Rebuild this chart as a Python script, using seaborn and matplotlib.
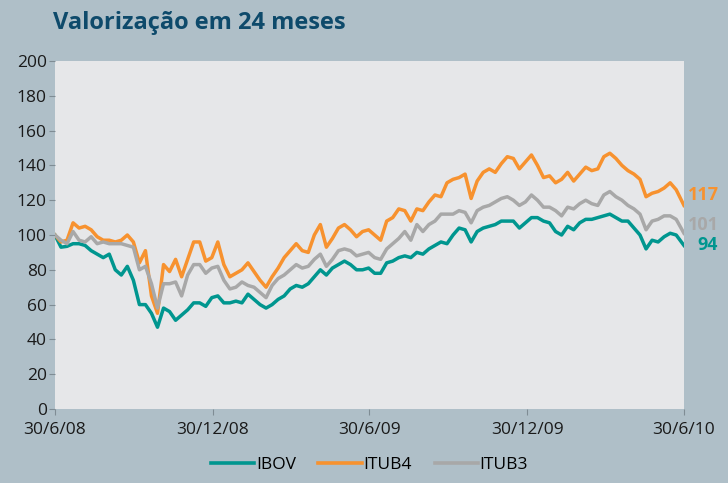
import pandas as pd
import numpy as np
import matplotlib
matplotlib.use('Agg')
import matplotlib.pyplot as plt
import seaborn as sns

# weekly values (base 100 on 30/6/08)
ibov = [100, 93, 93.5, 95, 95, 94, 91, 89, 87, 89,
        80, 77, 82, 74, 60, 60, 55, 47, 58, 56,
        51, 54, 57, 61, 61, 59, 64, 65, 61, 61,
        62, 61, 66, 63, 60, 58, 60, 63, 65, 69,
        71, 70, 72, 76, 80, 77, 81, 83, 85, 83,
        80, 80, 81, 78, 78, 84, 85, 87, 88, 87,
        90, 89, 92, 94, 96, 95, 100, 104, 103, 96,
        102, 104, 105, 106, 108, 108, 108, 104, 107, 110,
        110, 108, 107, 102, 100, 105, 103, 107, 109, 109,
        110, 111, 112, 110, 108, 108, 104, 100, 92, 97,
        96, 99, 101, 100, 94]

itub4 = [100, 96, 97, 107, 104, 105, 103, 99, 97, 97,
         96, 97, 100, 96, 84, 91, 65, 55, 83, 79,
         86, 76, 86, 96, 96, 85, 87, 96, 83, 76,
         78, 80, 84, 79, 74, 70, 76, 81, 87, 91,
         95, 91, 90, 100, 106, 93, 98, 104, 106, 103,
         99, 102, 103, 100, 97, 108, 110, 115, 114, 108,
         115, 114, 119, 123, 122, 130, 132, 133, 135, 121,
         131, 136, 138, 136, 141, 145, 144, 138, 142, 146,
         140, 133, 134, 130, 132, 136, 131, 135, 139, 137,
         138, 145, 147, 144, 140, 137, 135, 132, 122, 124,
         125, 127, 130, 126, 117]

itub3 = [100, 97, 95, 102, 97, 96, 99, 95, 96, 95,
         95, 95, 94, 93, 80, 82, 72, 58, 72, 72,
         73, 65, 77, 83, 83, 78, 81, 82, 74, 69,
         70, 73, 71, 70, 67, 64, 71, 75, 77, 80,
         83, 81, 82, 86, 89, 82, 86, 91, 92, 91,
         88, 89, 90, 87, 86, 92, 95, 98, 102, 97,
         106, 102, 106, 108, 112, 112, 112, 114, 113, 107,
         114, 116, 117, 119, 121, 122, 120, 117, 119, 123,
         120, 116, 116, 114, 111, 116, 115, 118, 120, 118,
         117, 123, 125, 122, 120, 117, 115, 112, 103, 108,
         109, 111, 111, 109, 101]

dates = list(pd.date_range('2008-06-30', periods=104, freq='7D')) + [pd.Timestamp('2010-06-30')]

tick_dates = pd.to_datetime(['2008-06-30', '2008-12-30', '2009-06-30', '2009-12-30', '2010-06-30'])
tick_labels = ['30/6/08', '30/12/08', '30/6/09', '30/12/09', '30/6/10']

series = ['IBOV', 'ITUB4', 'ITUB3']
colors = {'IBOV': '#00968F', 'ITUB4': '#F7922F', 'ITUB3': '#A8A8A8'}

df = pd.DataFrame({'data': dates, 'IBOV': ibov, 'ITUB4': itub4, 'ITUB3': itub3})
long_df = df.melt(id_vars='data', var_name='serie', value_name='valor')

plt.rcParams['font.family'] = ['Open Sans', 'DejaVu Sans']

fig = plt.figure(figsize=(7.28, 4.83), dpi=100)
fig.patch.set_facecolor('#AFBFC8')
ax = fig.add_axes([0.0755, 0.1532, 0.864, 0.7205])
ax.set_facecolor('#E6E7E9')

sns.lineplot(data=long_df, x='data', y='valor', hue='serie', hue_order=series,
             palette=colors, linewidth=2.5, ax=ax)

ax.set_xlim(tick_dates[0], tick_dates[-1])
ax.set_ylim(0, 200)
ax.set_yticks(range(0, 201, 20))
ax.set_xticks(tick_dates)
ax.set_xticklabels(tick_labels)
ax.set_xlabel('')
ax.set_ylabel('')
for s in ax.spines.values():
    s.set_visible(False)
ax.tick_params(axis='both', length=4, width=0.8, color='#7F8C94', labelsize=12.5,
               labelcolor='#1A1A1A', pad=2)
ax.tick_params(axis='x', pad=5)

# end labels
ax.text(1.006, 123, '117', transform=ax.get_yaxis_transform(), color=colors['ITUB4'],
        fontsize=13, fontweight='bold', va='center', ha='left')
ax.text(1.006, 106, '101', transform=ax.get_yaxis_transform(), color=colors['ITUB3'],
        fontsize=13, fontweight='bold', va='center', ha='left')
ax.text(1.054, 94, '94', transform=ax.get_yaxis_transform(), color=colors['IBOV'],
        fontsize=13, fontweight='bold', va='center', ha='right')

fig.text(0.073, 0.952, 'Valorização em 24 meses', color='#0E4A6B', fontsize=17,
         fontweight='bold', va='center', ha='left')

leg = ax.legend(loc='center', bbox_to_anchor=(0.5, -0.16), ncol=3, frameon=False,
                fontsize=12.5, handlelength=2.5, handletextpad=0.1, columnspacing=1.3)
for line in leg.get_lines():
    line.set_linewidth(2.6)

fig.savefig('out.png', dpi=100, facecolor=fig.get_facecolor())
